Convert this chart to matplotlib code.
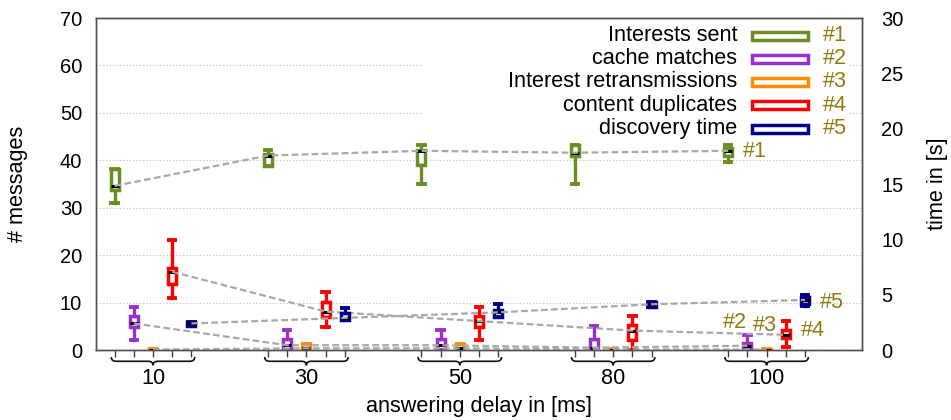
import numpy as np
import matplotlib.pyplot as plt
import matplotlib.transforms as mtransforms
from matplotlib.path import Path
from matplotlib.patches import PathPatch, Rectangle

plt.rcParams['font.family'] = ['Liberation Sans', 'DejaVu Sans']

delays = ['10', '30', '50', '80', '100']

# per delay: (whisker low, q1, median, q3, whisker high)
interests_sent = [(31.0, 33.7, 34.6, 38.2, 38.2),
                  (38.8, 38.8, 41.0, 41.3, 42.2),
                  (35.0, 39.0, 42.0, 42.2, 43.2),
                  (35.0, 40.9, 41.6, 43.2, 43.2),
                  (39.7, 40.8, 42.0, 42.5, 43.2)]
cache_matches = [(2.1, 4.9, 5.6, 7.2, 9.1),
                 (0.0, 0.0, 1.0, 2.3, 4.2),
                 (0.0, 0.0, 1.0, 2.3, 4.2),
                 (0.0, 0.0, 0.5, 2.3, 5.1),
                 (0.0, 0.0, 0.9, 1.4, 3.2)]
retransmissions = [(0.0, 0.0, 0.1, 0.3, 0.3),
                   (0.0, 0.0, 0.35, 1.2, 1.2),
                   (0.0, 0.0, 0.35, 1.2, 1.2),
                   (0.0, 0.0, 0.1, 0.3, 0.3),
                   (0.0, 0.0, 0.1, 0.3, 0.3)]
duplicates = [(11.0, 13.9, 16.5, 17.2, 23.2),
              (4.9, 6.9, 8.1, 10.2, 12.2),
              (2.1, 4.9, 6.1, 7.2, 9.1),
              (0.0, 2.1, 4.1, 5.3, 7.2),
              (0.7, 2.5, 3.2, 4.2, 6.1)]
# seconds, right axis
discovery_time = [(2.2, 2.2, 2.4, 2.56, 2.56),
                  (2.7, 2.7, 2.9, 3.37, 3.77),
                  (3.0, 3.0, 3.4, 3.61, 4.15),
                  (3.86, 3.86, 4.13, 4.36, 4.36),
                  (3.95, 4.2, 4.52, 4.8, 4.95)]

names = ['Interests sent', 'cache matches', 'Interest retransmissions',
         'content duplicates', 'discovery time']
tags = ['#1', '#2', '#3', '#4', '#5']
colors = ['#6b8e23', '#9932cc', '#ff8c00', '#ff0000', '#00008b']
tag_color = '#917b0f'

# where the end tags sit (data coords of the left axis)
tag_x = [3.846, 3.716, 3.911, 4.224, 4.348]
tag_y = [41.8, 5.8, 5.27, 4.2, 10.0]

FS = 15.6
slot = 0.125

fig = plt.figure(figsize=(9.51, 4.2), dpi=100)
ax = fig.add_axes([96/951, 1-350/420, 766/951, 332/420])
ax2 = ax.twinx()

ax.set_xlim(-0.3716, 4.622)
ax.set_ylim(0, 70)
ax2.set_ylim(0, 30)
ax.set_yticks(np.arange(0, 71, 10))
ax2.set_yticks(np.arange(0, 31, 5))

ax.set_axisbelow(True)
ax.yaxis.grid(True, linestyle=(0, (1, 2)), color='#bbbbbb', lw=0.8)

x = np.arange(len(delays))
series = [interests_sent, cache_matches, retransmissions, duplicates, discovery_time]

for k, (data, col) in enumerate(zip(series, colors)):
    target = ax2 if k == 4 else ax
    pos = x + (k - 2) * slot
    stats = [dict(whislo=a, q1=b, med=c, q3=d, whishi=e, fliers=[])
             for a, b, c, d, e in data]
    target.bxp(stats, positions=pos, widths=0.052, capwidths=0.042,
               patch_artist=True, manage_ticks=False,
               boxprops=dict(facecolor='white', edgecolor=col, lw=2.5),
               whiskerprops=dict(color=col, lw=2.4),
               capprops=dict(color=col, lw=2.8),
               medianprops=dict(color='black', lw=2.2),
               zorder=3)
    meds = [d[2] for d in data]
    target.plot(pos, meds, color='#a8a8a8', lw=1.6, ls=(0, (3, 1.5)), zorder=4)

for k in range(5):
    ax.text(tag_x[k], tag_y[k], tags[k], color=tag_color, fontsize=FS,
            ha='left', va='center', zorder=6)

# x axis: small ticks at every slot, braces and delay labels below
ax.set_xticks(np.concatenate([x + (k - 2) * slot for k in range(5)]))
ax.set_xticklabels([])
ax.tick_params(axis='x', direction='out', length=5, width=1, color='#404040')
ax.tick_params(axis='y', length=0, pad=10, labelsize=14.5)
ax2.tick_params(axis='y', length=0, pad=14, labelsize=14.5)

trans = mtransforms.blended_transform_factory(ax.transData, ax.transAxes)
y0, y1, y2, d = -0.021, -0.034, -0.046, 0.032
for i, lab in enumerate(delays):
    L, R, C = x[i] - 2 * slot - 0.022, x[i] + 2 * slot + 0.022, x[i]
    verts = [(L, y0), (L, y1), (L + d, y1), (C - d, y1), (C, y1), (C, y2),
             (C, y1), (C + d, y1), (R - d, y1), (R, y1), (R, y0)]
    codes = [Path.MOVETO, Path.CURVE3, Path.CURVE3, Path.LINETO, Path.CURVE3,
             Path.CURVE3, Path.CURVE3, Path.CURVE3, Path.LINETO, Path.CURVE3,
             Path.CURVE3]
    ax.add_patch(PathPatch(Path(verts, codes), transform=trans, fill=False,
                           lw=1.2, edgecolor='#111111', clip_on=False))
    ax.text(C, -0.087, lab, transform=trans, ha='center', va='center', fontsize=FS)

ax.text(0.5, -0.169, 'answering delay in [ms]', transform=ax.transAxes,
        ha='center', va='center', fontsize=FS)
ax.text(-0.103, 0.5, '# messages', transform=ax.transAxes, rotation=90,
        ha='center', va='center', fontsize=FS)
ax.text(1.099, 0.5, 'time in [s]', transform=ax.transAxes, rotation=90,
        ha='center', va='center', fontsize=FS)

for a in (ax, ax2):
    for s in a.spines.values():
        s.set_color('#505050')
        s.set_linewidth(1)

# legend: white block over the grid, label / outlined sample / tag
ax.add_patch(Rectangle((0.4256, 0.633), 0.557, 0.36, transform=ax.transAxes,
                       facecolor='white', edgecolor='none', zorder=1))
row_y = [0.946, 0.877, 0.808, 0.737, 0.667]
for k in range(5):
    ax2.text(0.837, row_y[k], names[k], transform=ax.transAxes,
             ha='right', va='center', fontsize=FS)
    ax2.add_patch(Rectangle((0.857, row_y[k] - 0.012), 0.073, 0.024,
                            transform=ax.transAxes, facecolor='white',
                            edgecolor=colors[k], lw=2.5))
    ax2.text(0.949, row_y[k], tags[k], transform=ax.transAxes, color=tag_color,
             ha='left', va='center', fontsize=FS)

fig.savefig('out.png', dpi=100)
